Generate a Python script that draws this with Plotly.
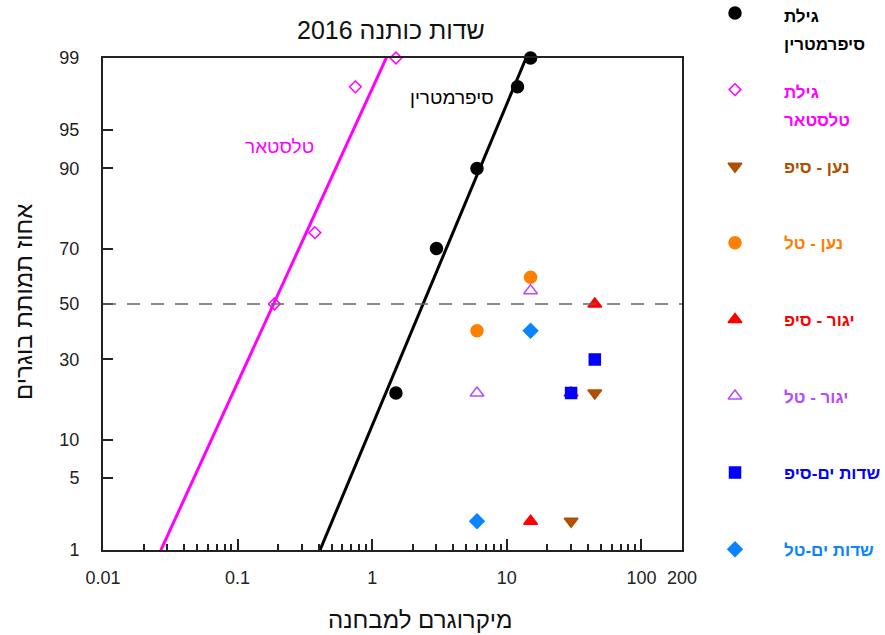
from statistics import NormalDist
import numpy as np
import plotly.graph_objects as go

# ---- data: dose (microgram per vial) vs. adult mortality (%) ----
gilat_cyper_dose = [1.5, 3, 6, 12, 15]
gilat_cyper_mort = [20, 70, 90, 98, 99]

gilat_telstar_dose = [0.1875, 0.375, 0.75, 1.5]
gilat_telstar_mort = [50, 75, 98, 99]

naan_sip_dose = [30, 45]
naan_sip_mort = [2, 20]

naan_tal_dose = [6, 15]
naan_tal_mort = [40, 60]

yagur_sip_dose = [15, 30, 45]
yagur_sip_mort = [2, 20, 50]

yagur_tal_dose = [6, 15]
yagur_tal_mort = [20, 55]

sdot_sip_dose = [30, 45]
sdot_sip_mort = [20, 30]

sdot_tal_dose = [6, 15]
sdot_tal_mort = [2, 40]

series_names = [
    ["גילת", "סיפרמטרין"],
    ["גילת", "טלסטאר"],
    ["נען - סיפ"],
    ["נען - טל"],
    ["יגור - סיפ"],
    ["יגור - טל"],
    ["שדות ים-סיפ"],
    ["שדות ים-טל"],
]
series_dose = [gilat_cyper_dose, gilat_telstar_dose, naan_sip_dose, naan_tal_dose,
               yagur_sip_dose, yagur_tal_dose, sdot_sip_dose, sdot_tal_dose]
series_mort = [gilat_cyper_mort, gilat_telstar_mort, naan_sip_mort, naan_tal_mort,
               yagur_sip_mort, yagur_tal_mort, sdot_sip_mort, sdot_tal_mort]
series_color = ["#000000", "#FF00FF", "#B05000", "#FF8000",
                "#FF0000", "#B44CFF", "#0000FF", "#0A84FF"]
series_symbol = ["circle", "diamond-open", "triangle-down", "circle",
                 "triangle-up", "triangle-up-open", "square", "diamond"]
series_size = [12, 9, 12, 12, 12, 12, 11, 11]

# probit regression lines (LC50, slope per log10 dose)
fit_labels = ["סיפרמטרין", "טלסטאר"]
fit_lc50 = [2.385, 0.185]
fit_slope = [3.04, 2.78]
fit_color = ["#000000", "#FF00FF"]

y_tick_pct = [1, 5, 10, 30, 50, 70, 90, 95, 99]
x_tick_vals = [0.01, 0.1, 1, 10, 100, 200]
x_tick_text = ["0.01", "0.1", "1", "10", "100", "200"]

title_text = "שדות כותנה 2016"
x_title = "מיקרוגרם למבחנה"
y_title = "אחוז תמותת בוגרים"

FONT = "Liberation Sans, Arial, sans-serif"
W, H = 885, 635
nd = NormalDist()


def probit(p):
    return nd.inv_cdf(p / 100.0)


fig = go.Figure()

# regression lines, clipped by the axes
for lc50, slope, col in zip(fit_lc50, fit_slope, fit_color):
    z = np.array([-3.0, 3.0])
    xs = 10 ** (np.log10(lc50) + z / slope)
    fig.add_trace(go.Scatter(x=xs, y=z, mode="lines",
                             line=dict(color=col, width=3),
                             showlegend=False, hoverinfo="skip"))

# observed points
for dose, mort, col, sym, sz, nm in zip(series_dose, series_mort, series_color,
                                         series_symbol, series_size, series_names):
    fig.add_trace(go.Scatter(
        x=dose, y=[probit(m) for m in mort], mode="markers",
        marker=dict(color=col, symbol=sym, size=sz,
                    line=dict(color=col, width=1.5)),
        name=" ".join(nm), showlegend=False, cliponaxis=False))

# legend drawn on a pixel-space overlay axis
row0, row_step = 13, 76.6
for i, (col, sym, sz, nm) in enumerate(zip(series_color, series_symbol,
                                           series_size, series_names)):
    ry = row0 + row_step * i
    fig.add_trace(go.Scatter(
        x=[735], y=[ry], xaxis="x2", yaxis="y2", mode="markers",
        marker=dict(color=col, symbol=sym, size=sz,
                    line=dict(color=col, width=1.5)),
        showlegend=False, cliponaxis=False, hoverinfo="skip"))
    for k, line in enumerate(nm):
        fig.add_annotation(x=782, y=ry + (3 + 28 * k if len(nm) > 1 else 1),
                           xref="x2", yref="y2", text=line, showarrow=False,
                           xanchor="left", yanchor="middle",
                           font=dict(family=FONT, size=17, color=col,
                                     weight="bold"))

x_dom = [103 / W, 682 / W]
y_dom = [(H - 550) / H, (H - 58) / H]

fig.update_layout(
    width=W, height=H,
    margin=dict(l=0, r=0, t=0, b=0, pad=0, autoexpand=False),
    paper_bgcolor="white", plot_bgcolor="rgba(0,0,0,0)",
    font=dict(family=FONT, size=18, color="#222222"),
    xaxis=dict(
        type="log", domain=x_dom, anchor="y",
        range=[np.log10(0.01), np.log10(200)],
        tickmode="array", tickvals=x_tick_vals, ticktext=x_tick_text,
        ticks="inside", ticklen=11, tickwidth=1.5, tickcolor="#222222",
        ticklabelstandoff=10,
        minor=dict(ticks="inside", ticklen=6, tickwidth=1.5, tickcolor="#222222",
                   tickmode="array",
                   tickvals=[m * 10.0 ** e for e in range(-2, 2) for m in range(2, 10)]
                   ),
        showline=True, linecolor="#222222", linewidth=2, mirror=True,
        showgrid=False, zeroline=False,
    ),
    yaxis=dict(
        domain=y_dom, anchor="x",
        range=[probit(1), probit(99)],
        tickmode="array", tickvals=[probit(p) for p in y_tick_pct],
        ticktext=[str(p) for p in y_tick_pct],
        ticks="inside", ticklen=10, tickwidth=1.5, tickcolor="#222222",
        ticklabelstandoff=18,
        showline=True, linecolor="#222222", linewidth=2, mirror=True,
        showgrid=False, zeroline=False,
    ),
    xaxis2=dict(domain=[0, 1], range=[0, W], anchor="y2", visible=False,
                fixedrange=True),
    yaxis2=dict(domain=[0, 1], range=[H, 0], anchor="x2", visible=False,
                fixedrange=True),
)

# 50% reference line
fig.add_shape(type="line", xref="x domain", yref="y", x0=0, x1=1,
              y0=probit(50), y1=probit(50),
              line=dict(color="#666666", width=1.5, dash="13px,11px"))

# fit labels
for lbl, col, (px, py) in zip(fit_labels, fit_color, [(452, 97), (279, 146)]):
    fig.add_annotation(x=px, y=py, xref="x2", yref="y2", text=lbl,
                       showarrow=False, xanchor="center", yanchor="middle",
                       font=dict(family=FONT, size=19, color=col))

# titles
fig.add_annotation(x=391, y=30, xref="x2", yref="y2", text=title_text,
                   showarrow=False, font=dict(family=FONT, size=25, color="#111111"))
fig.add_annotation(x=420, y=619, xref="x2", yref="y2", text=x_title,
                   showarrow=False, font=dict(family=FONT, size=24, color="#111111"))
fig.add_annotation(x=23, y=302, xref="x2", yref="y2", text=y_title, textangle=-90,
                   showarrow=False, font=dict(family=FONT, size=24, color="#111111"))

fig.write_html("out.html")
